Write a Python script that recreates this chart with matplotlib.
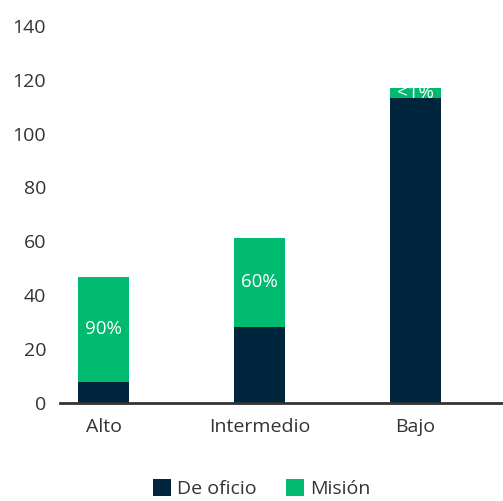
import matplotlib
matplotlib.use("Agg")
import matplotlib.pyplot as plt
import numpy as np

# ---- data -------------------------------------------------------------------
categories = ["Alto", "Intermedio", "Bajo"]
de_oficio = [7.6, 28.1, 113.2]
mision = [39.1, 33.1, 3.8]
mision_labels = ["90%", "60%", "<1%"]

NAVY = "#00263E"
GREEN = "#00BA70"
INK = "#333333"

plt.rcParams["font.family"] = ["Open Sans", "DejaVu Sans"]

fig = plt.figure(figsize=(5.03, 5.01), dpi=100)
ax = fig.add_axes([60 / 503, 0.1966, 443 / 503, 0.948 - 0.1966])

x = np.arange(len(categories))
w = 0.327
ax.bar(x, de_oficio, w, color=NAVY, label="De oficio", zorder=2)
ax.bar(x, mision, w, bottom=de_oficio, color=GREEN, label="Misión", zorder=2)

for xi, b, m, lab in zip(x, de_oficio, mision, mision_labels):
    ax.text(xi, b + m / 2, lab, ha="center", va="center", color="white",
            fontsize=13.5, zorder=3)

ax.set_xlim(-0.279, 2.56)
ax.set_ylim(0, 140)
ax.set_yticks(range(0, 141, 20))
ax.set_xticks(x)
ax.set_xticklabels(categories)
ax.tick_params(axis="both", length=0, labelsize=14, colors=INK)
ax.tick_params(axis="x", pad=11)
ax.tick_params(axis="y", pad=10)
for s in ["top", "right", "left"]:
    ax.spines[s].set_visible(False)
ax.spines["bottom"].set_color(INK)
ax.spines["bottom"].set_linewidth(2)

ax.legend(loc="lower center", bbox_to_anchor=(0.455, -0.30), ncol=2,
          frameon=False, fontsize=14, handlelength=0.95, handleheight=0.95,
          handletextpad=0.3, columnspacing=1.5, labelcolor=INK)

fig.savefig("out.png", dpi=100, facecolor="white")
